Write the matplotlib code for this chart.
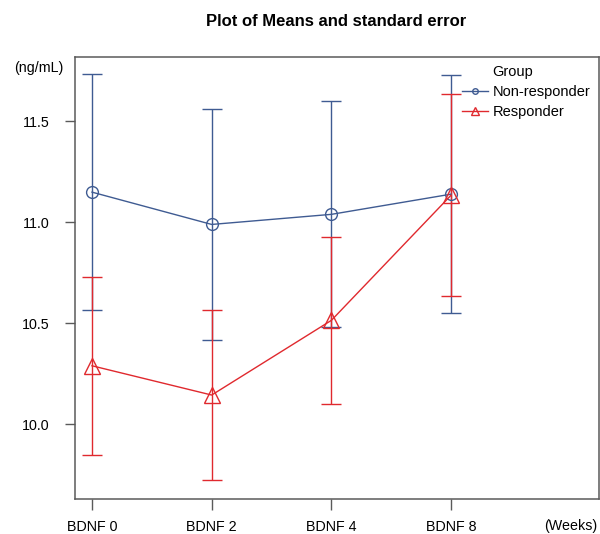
import matplotlib
matplotlib.use("Agg")
import matplotlib.pyplot as plt
from matplotlib.lines import Line2D

plt.rcParams['font.family'] = ['Liberation Sans', 'DejaVu Sans']

# data
weeks = ['BDNF 0', 'BDNF 2', 'BDNF 4', 'BDNF 8']
xpos = [1, 2, 3, 4]
non_resp_mean = [11.15, 10.99, 11.04, 11.14]
non_resp_se = [0.585, 0.57, 0.56, 0.59]
resp_mean = [10.29, 10.145, 10.515, 11.135]
resp_se = [0.44, 0.42, 0.415, 0.50]
yticks = [10.0, 10.5, 11.0, 11.5]

blue = '#3f5b92'
red = '#e0292e'
axis_gray = '#5a5a5a'

fig = plt.figure(figsize=(6.0, 5.34), dpi=100)
ax = fig.add_axes([0.125, 0.0655, 0.873, 0.828])

# error bars
ax.errorbar(xpos, non_resp_mean, yerr=non_resp_se, fmt='none', ecolor=blue,
            elinewidth=1.0, capsize=7.5, capthick=1.0, zorder=2)
ax.errorbar(xpos, resp_mean, yerr=resp_se, fmt='none', ecolor=red,
            elinewidth=1.0, capsize=7.5, capthick=1.0, zorder=2)

# means
ax.plot(xpos, non_resp_mean, color=blue, lw=1.0, marker='o', ms=8.5,
        mfc='none', mec=blue, mew=1.0, zorder=3)
ax.plot(xpos, resp_mean, color=red, lw=1.0, marker='^', ms=12,
        mfc='none', mec=red, mew=1.0, zorder=3)

ax.set_xlim(0.858, 5.234)
ax.set_ylim(9.63, 11.82)

ax.set_xticks(xpos)
ax.set_xticklabels(weeks)
ax.set_yticks(yticks)
ax.set_yticklabels(['%.1f' % v for v in yticks])
ax.tick_params(axis='x', length=8, width=1.0, color=axis_gray, pad=7, labelsize=10.3)
ax.tick_params(axis='y', length=7.5, width=1.0, color=axis_gray, pad=11, labelsize=10.3)
for sp in ax.spines.values():
    sp.set_color(axis_gray)
    sp.set_linewidth(1.1)

# extra axis captions
ax.text(5.0, -0.045, '(Weeks)', transform=ax.get_xaxis_transform(),
        ha='center', va='top', fontsize=10.3)
fig.text(39 / 600, 1 - 68 / 534, '(ng/mL)', ha='center', va='center', fontsize=10.3)

fig.text(336 / 600, 1 - 22 / 534, 'Plot of Means and standard error',
         ha='center', va='center', fontsize=12, fontweight='bold')

# legend
handles = [
    Line2D([], [], color='none'),
    Line2D([], [], color=blue, lw=1.0, marker='o', ms=4, mfc='none', mec=blue),
    Line2D([], [], color=red, lw=1.0, marker='^', ms=6, mfc='none', mec=red),
]
ax.legend(handles, ['Group', 'Non-responder', 'Responder'], loc='upper left',
          bbox_to_anchor=(462 / 600, 1 - 65 / 534), bbox_transform=fig.transFigure,
          frameon=False, fontsize=10.5, handlelength=1.75, handletextpad=0.35,
          labelspacing=0.42, borderpad=0, borderaxespad=0)

fig.savefig('out.png', dpi=100, facecolor='white')
